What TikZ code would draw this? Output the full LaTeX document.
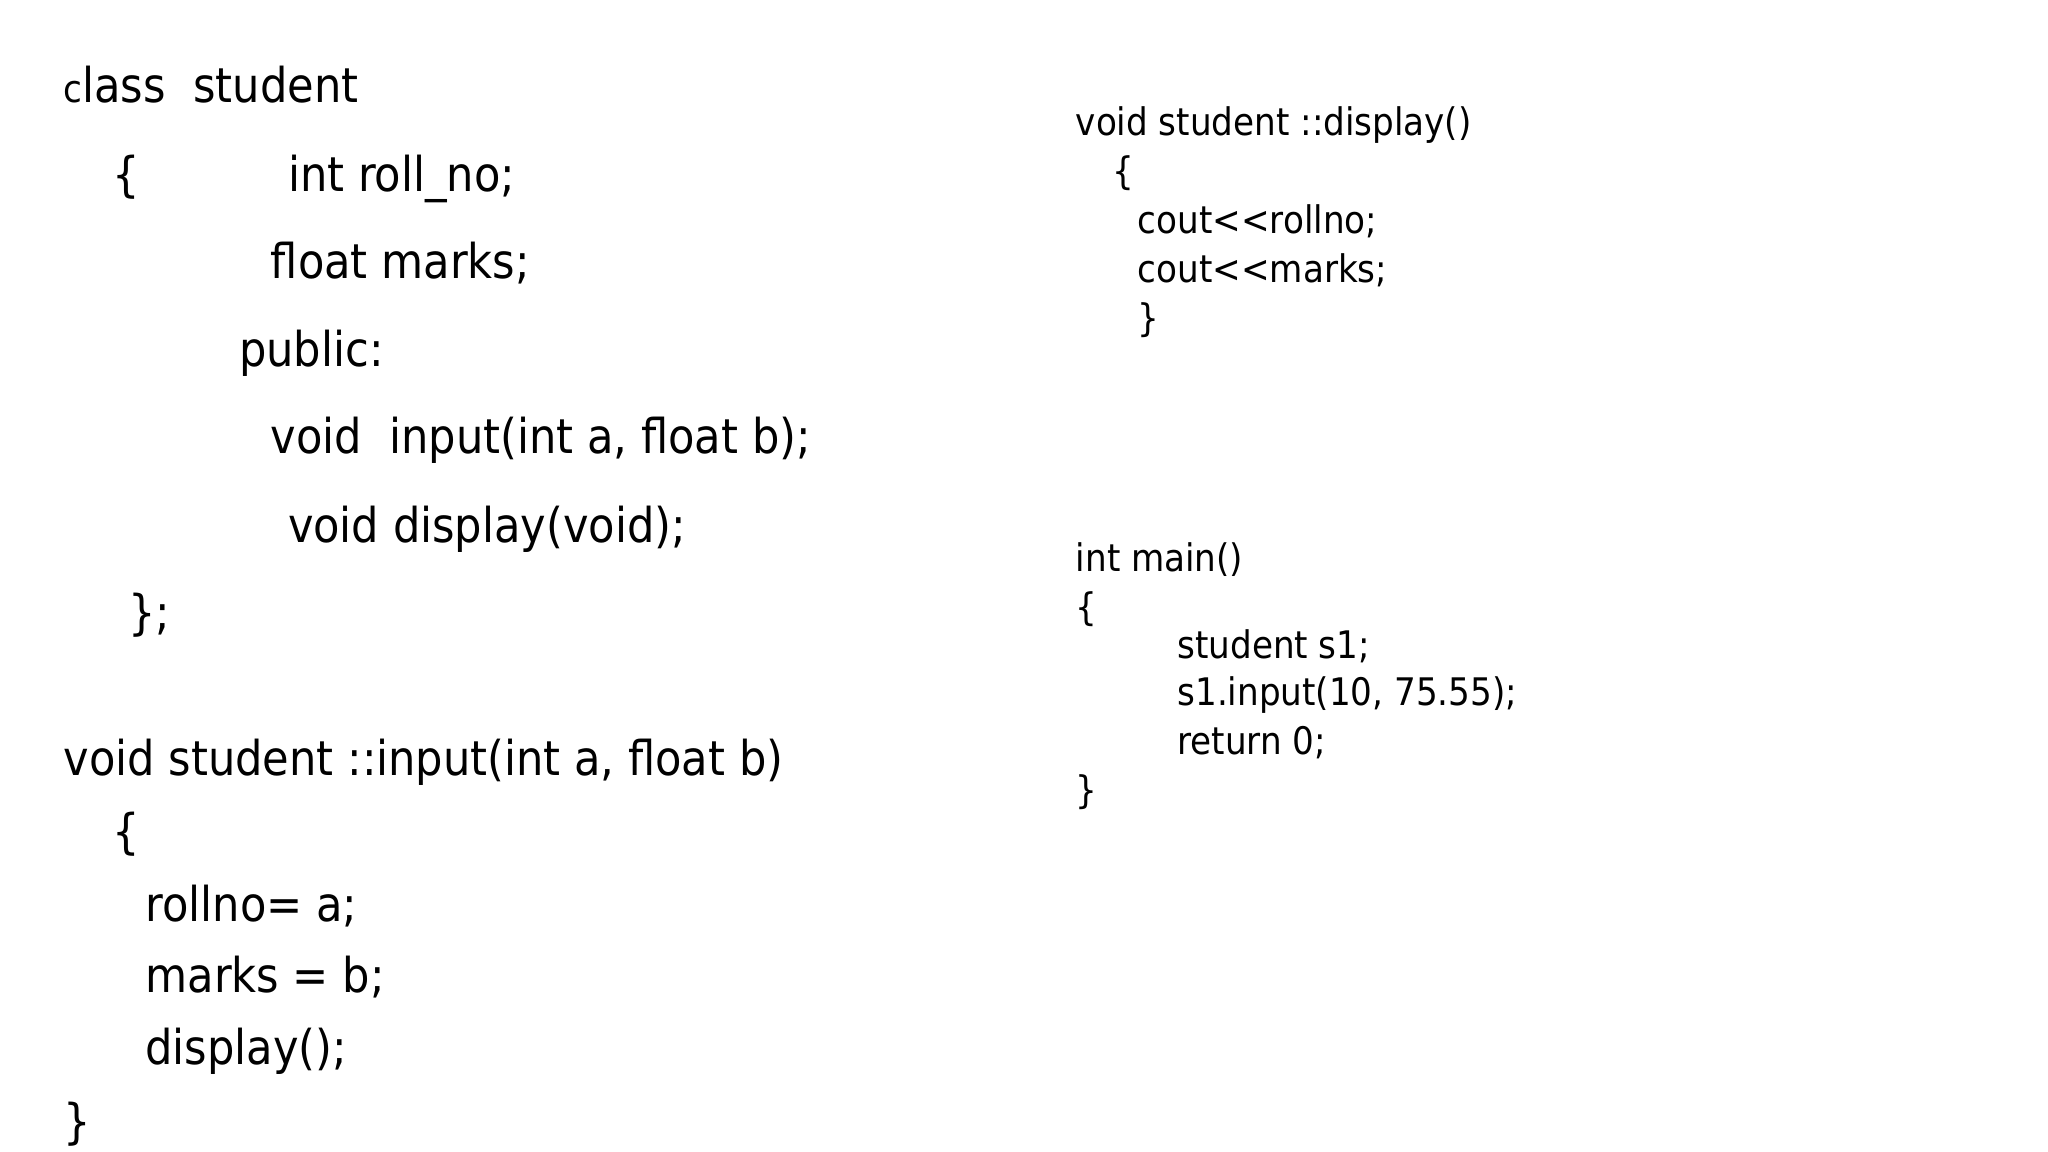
\documentclass[tikz,border=0pt]{standalone}
\usepackage{fontspec}
\setmainfont{DejaVu Sans Condensed}
\begin{document}
\begin{tikzpicture}[x=0.66pt,y=-0.66pt,
  big/.style={anchor=base west,inner sep=0pt,font=\fontsize{24}{28}\selectfont},
  small/.style={anchor=base west,inner sep=0pt,font=\fontsize{19}{22}\selectfont}]
\useasboundingbox[fill=white] (0,0) rectangle (1552,873);
\node[big] (l1) at (48,78) {\fontsize{19}{22}\selectfont c\fontsize{24}{28}\selectfont lass~~student};
\node[big] (l2a) at (85,145) {\{};
\node[big] (l2b) at (218,145) {int roll\_no;};
\node[big] (l3) at (205,211) {float marks;};
\node[big] (l4) at (181,278) {public:};
\node[big] (l5) at (205,344) {void~~input(int a, float b);};
\node[big] (l6) at (218,411) {void display(void);};
\node[big] (l7) at (97,477) {\};};
\node[big] (m1) at (48,588) {void student ::input(int a, float b)};
\node[big] (m2) at (85,643) {\{};
\node[big] (m3) at (110,698) {rollno= a;};
\node[big] (m4) at (110,752) {marks = b;};
\node[big] (m5) at (110,807) {display();};
\node[big] (m6) at (48,863) {\}};
\node[small] (r1) at (815,103) {void student ::display()};
\node[small] (r2) at (843,140) {\{};
\node[small] (r3) at (862,177) {cout<{}<rollno;};
\node[small] (r4) at (862,214) {cout<{}<marks;};
\node[small] (r5) at (862,251) {\}};
\node[small] (s1) at (815,433) {int main()};
\node[small] (s2) at (815,470) {\{};
\node[small] (s3) at (892,499) {student s1;};
\node[small] (s4) at (892,535) {s1.input(10, 75.55);};
\node[small] (s5) at (892,572) {return 0;};
\node[small] (s6) at (815,609) {\}};
\end{tikzpicture}
\end{document}
